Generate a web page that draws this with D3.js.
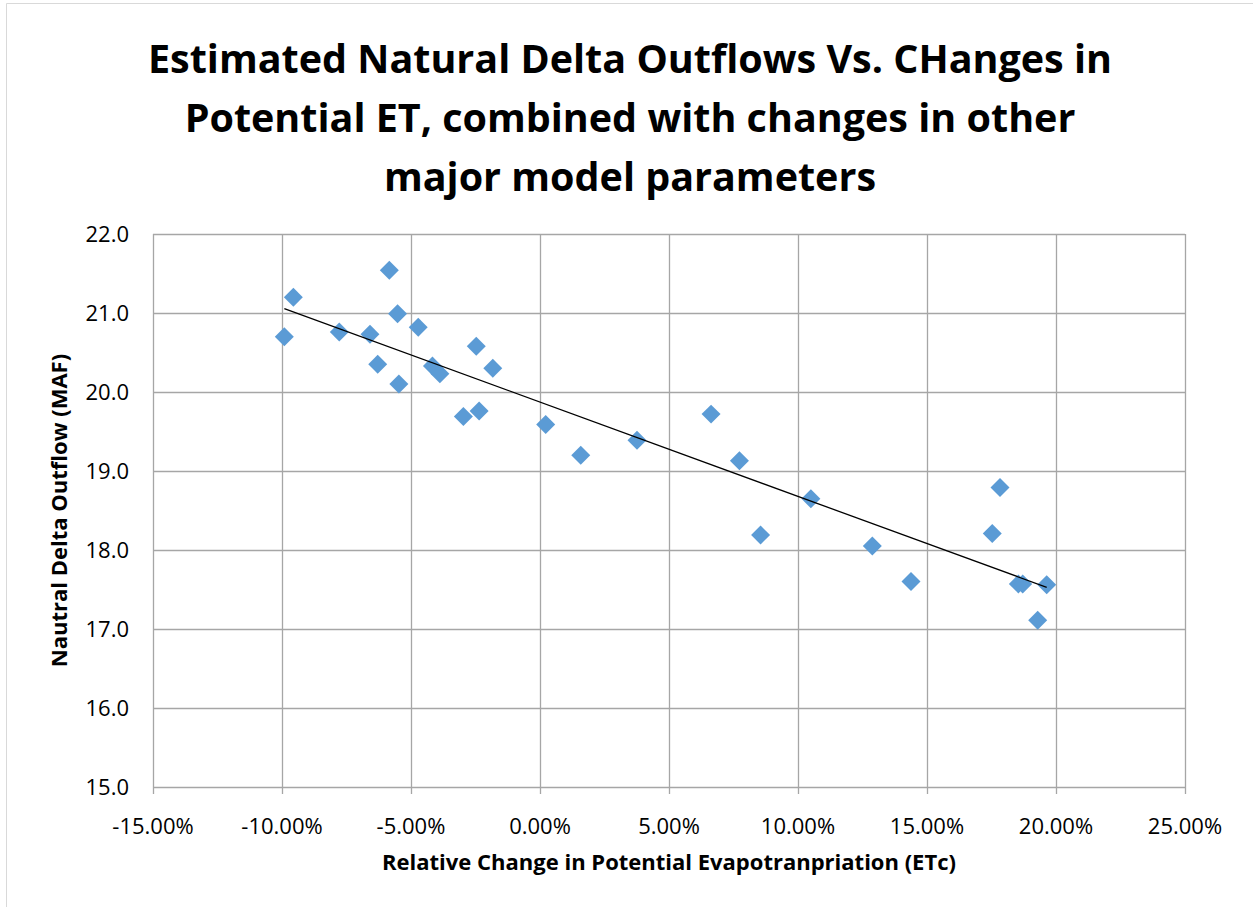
<!DOCTYPE html>
<html>
<head>
<meta charset="utf-8">
<script src="https://cdn.jsdelivr.net/npm/d3@7"></script>
<style>
  body { margin: 0; background: #fff; }
  text { font-family: "Open Sans", "Noto Sans", sans-serif; }
</style>
</head>
<body>
<svg width="1253" height="907"></svg>
<script>
// relative change in potential ET (fraction)
const etChange = [
  -0.0991, -0.0956, -0.0778, -0.0584, -0.0659, -0.0552, -0.0629, -0.0547,
  -0.0472, -0.0417, -0.0388, -0.0247, -0.0183, -0.0297, -0.0236, 0.0022,
  0.0158, 0.0376, 0.0663, 0.0773, 0.1050, 0.0855, 0.1288, 0.1438,
  0.1783, 0.1753, 0.1854, 0.1871, 0.1964, 0.1929
];
// natural delta outflow (MAF)
const outflow = [
  20.70, 21.20, 20.76, 21.54, 20.73, 20.99, 20.35, 20.10,
  20.82, 20.33, 20.23, 20.58, 20.30, 19.69, 19.76, 19.59,
  19.20, 19.39, 19.72, 19.13, 18.65, 18.19, 18.05, 17.60,
  18.79, 18.21, 17.57, 17.57, 17.56, 17.11
];
const xTicks = [-0.15, -0.10, -0.05, 0, 0.05, 0.10, 0.15, 0.20, 0.25];
const yTicks = [15, 16, 17, 18, 19, 20, 21, 22];
const titleLines = [
  "Estimated Natural Delta Outflows Vs. CHanges in",
  "Potential ET, combined with changes in other",
  "major model parameters"
];

const svg = d3.select("svg");
const m = {left: 153, right: 1185, top: 234, bottom: 787};

// chart border (cropped on right/bottom)
svg.append("path")
  .attr("d", "M6.5,907 V3.5 H1253")
  .attr("fill", "none")
  .attr("stroke", "#d9d9d9");

const x = d3.scaleLinear().domain([-0.15, 0.25]).range([m.left, m.right]);
const y = d3.scaleLinear().domain([15, 22]).range([m.bottom, m.top]);

// grid
svg.append("g").selectAll("line")
  .data(yTicks).enter().append("line")
  .attr("x1", m.left).attr("x2", m.right)
  .attr("y1", d => Math.round(y(d)) + 0.5).attr("y2", d => Math.round(y(d)) + 0.5)
  .attr("stroke", "#a6a6a6").attr("stroke-width", 1.3);

svg.append("g").selectAll("line")
  .data(xTicks).enter().append("line")
  .attr("x1", d => Math.round(x(d)) + 0.5).attr("x2", d => Math.round(x(d)) + 0.5)
  .attr("y1", m.top).attr("y2", m.bottom + 7)
  .attr("stroke", "#a6a6a6").attr("stroke-width", 1.3);

// axes labels
const fmtPct = d3.format(".2%");
svg.append("g").selectAll("text")
  .data(xTicks).enter().append("text")
  .attr("x", d => x(d)).attr("y", 834)
  .attr("text-anchor", "middle")
  .attr("font-size", 22)
  .attr("fill", "#000")
  .text(d => fmtPct(d).replace("−", "-"));

svg.append("g").selectAll("text")
  .data(yTicks).enter().append("text")
  .attr("x", 129).attr("y", d => y(d) + 8)
  .attr("text-anchor", "end")
  .attr("font-size", 22)
  .attr("fill", "#000")
  .text(d => d3.format(".1f")(d));

svg.append("text")
  .attr("x", (m.left + m.right) / 2).attr("y", 870)
  .attr("text-anchor", "middle")
  .attr("font-size", 22).attr("font-weight", "bold")
  .text("Relative Change in Potential Evapotranpriation (ETc)");

svg.append("text")
  .attr("transform", `translate(67,${(m.top + m.bottom) / 2}) rotate(-90)`)
  .attr("text-anchor", "middle")
  .attr("font-size", 22).attr("font-weight", "bold")
  .text("Nautral Delta Outflow (MAF)");

// title
svg.append("g").selectAll("text")
  .data(titleLines).enter().append("text")
  .attr("x", 630).attr("y", (d, i) => 73 + i * 59)
  .attr("text-anchor", "middle")
  .attr("font-size", 39.5).attr("font-weight", "bold")
  .text(d => d);

// points
const pts = etChange.map((d, i) => ({x: d, y: outflow[i]}));
const diamond = d3.symbol(d3.symbolSquare, 180);
svg.append("g").selectAll("path")
  .data(pts).enter().append("path")
  .attr("d", diamond)
  .attr("transform", d => `translate(${x(d.x)},${y(d.y)}) rotate(45)`)
  .attr("fill", "#5b9bd5");

// linear trendline (least squares)
const mx = d3.mean(etChange), my = d3.mean(outflow);
const slope = d3.sum(pts, p => (p.x - mx) * (p.y - my)) / d3.sum(pts, p => (p.x - mx) ** 2);
const icpt = my - slope * mx;
const ext = d3.extent(etChange);
svg.append("line")
  .attr("x1", x(ext[0])).attr("y1", y(icpt + slope * ext[0]))
  .attr("x2", x(ext[1])).attr("y2", y(icpt + slope * ext[1]))
  .attr("stroke", "#000").attr("stroke-width", 1.3);
</script>
</body>
</html>
